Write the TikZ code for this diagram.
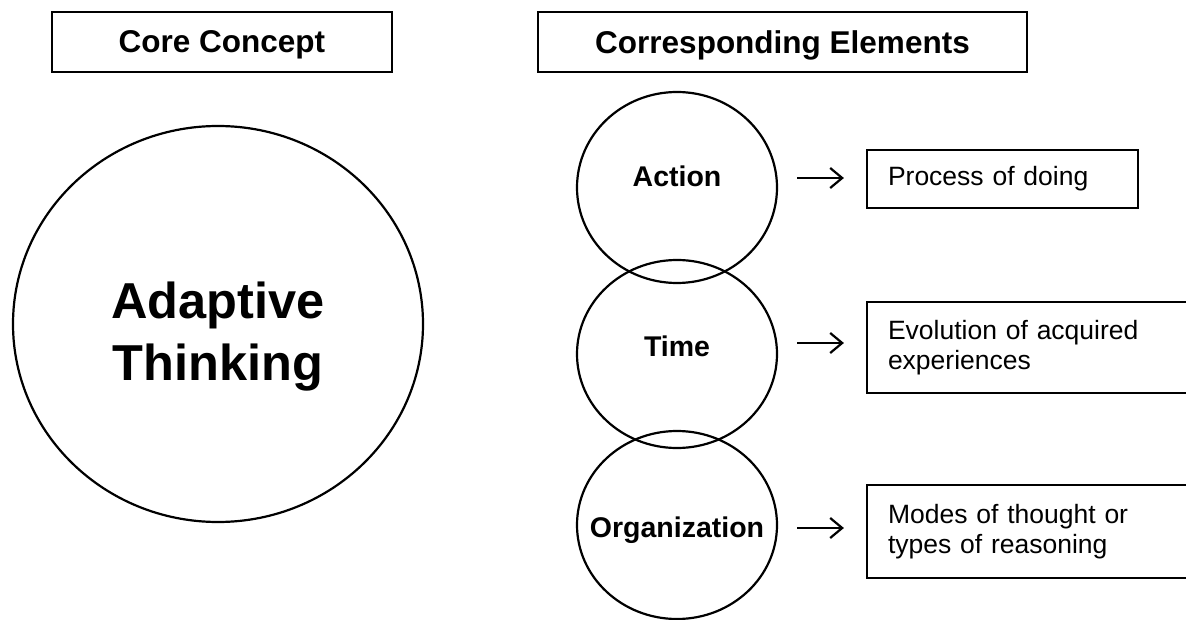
\documentclass[tikz,border=0pt]{standalone}
\usepackage{fontspec}
\setmainfont{Liberation Sans}
\usetikzlibrary{shapes.geometric,arrows.meta}
\begin{document}
\begin{tikzpicture}[x=1pt,y=-1pt,line width=2.2pt,
  hdr/.style={draw,rectangle,minimum width=#1,minimum height=60pt,inner sep=0pt,text depth=0pt,
    font=\fontsize{31.5}{36}\selectfont\bfseries},
  ring/.style={draw,ellipse,inner sep=0pt},
  lbl/.style={inner sep=0pt,anchor=base,font=\fontsize{28.5}{33}\selectfont\bfseries},
  desc/.style={draw,rectangle,align=left,inner xsep=21pt,inner ysep=0pt,text width=#1,
    font=\fontsize{26.5}{30}\selectfont},
  arr/.style={-{Straight Barb[length=12pt,width=20pt,line width=2.2pt]},line width=2.2pt,shorten >=22pt}]
\useasboundingbox (0,0) rectangle (1186,620);

% headers
\node[hdr=340pt] (core) at (222,42) {Core Concept};
\node[hdr=489pt] (corr) at (782.5,42) {Corresponding Elements};

% core concept
\node[ring,minimum width=410pt,minimum height=396pt] (big) at (218,324) {};
\node[align=center,inner sep=0pt,font=\fontsize{50.5}{62}\selectfont\bfseries] (bigtxt) at (218,337) {Adaptive\\Thinking};

% element circles
\node[ring,minimum width=200pt,minimum height=191pt] (cact) at (677,187.5) {};
\node[ring,minimum width=200pt,minimum height=188pt] (ctime) at (677,354) {};
\node[ring,minimum width=200pt,minimum height=188pt] (corg) at (677,525) {};

\node[lbl] (lact) at (677,187) {Action};
\node[lbl] (ltime) at (677,356) {Time};
\node[lbl] (lorg) at (677,537) {Organization};

% description boxes
\node[desc=229pt,minimum height=58pt] (pbox) at (1002.5,179) {Process of doing};
\node[desc=291pt,minimum height=91pt] (ebox) at (1033.5,347.5) {Evolution of acquired\\experiences};
\node[desc=291pt,minimum height=93pt] (mbox) at (1033.5,531.5) {Modes of thought or\\types of reasoning};

% arrows
\coordinate (s1) at (797,178);
\coordinate (s2) at (797,343);
\coordinate (s3) at (797,528);
\draw[arr] (s1) -- (s1 -| pbox.west);
\draw[arr] (s2) -- (s2 -| ebox.west);
\draw[arr] (s3) -- (s3 -| mbox.west);
\end{tikzpicture}
\end{document}
